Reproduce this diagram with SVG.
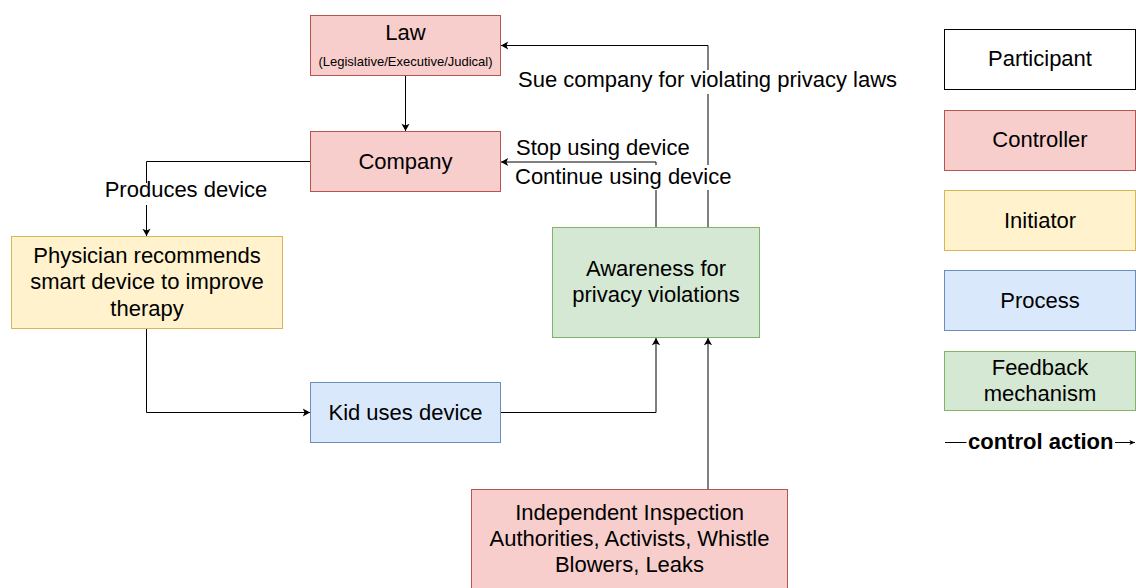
<svg xmlns="http://www.w3.org/2000/svg" width="1136" height="588" viewBox="0 0 1136 588">
  <style>
    .red { fill: #f8cecc; stroke: #b85450; stroke-width: 1; }
    .yellow { fill: #fff2cc; stroke: #d6b656; stroke-width: 1; }
    .blue { fill: #dae8fc; stroke: #6c8ebf; stroke-width: 1; }
    .green { fill: #d5e8d4; stroke: #82b366; stroke-width: 1; }
    .white { fill: #ffffff; stroke: #000000; stroke-width: 1; }
    text { font-family: "Liberation Sans", Arial, Helvetica, sans-serif; font-size: 22px; fill: #000000; }
    .c { text-anchor: middle; }
    .small { font-size: 13px; }
    .bold { font-weight: bold; }
    .edge { fill: none; stroke: #000000; stroke-width: 1; }
    .bg { fill: #ffffff; stroke: none; }
  </style>
  <defs>
    <marker id="arrow" viewBox="0 0 10 10" refX="9" refY="5" markerWidth="9" markerHeight="9" markerUnits="userSpaceOnUse" orient="auto">
      <path d="M1,0.5 L9,5 L1,9.5 L3,5 Z" fill="#000000"/>
    </marker>
    <marker id="arrowSmall" viewBox="0 0 10 10" refX="9" refY="5" markerWidth="7" markerHeight="7" markerUnits="userSpaceOnUse" orient="auto">
      <path d="M1,1.5 L9,5 L1,8.5 L3,5 Z" fill="#000000"/>
    </marker>
  </defs>

  <rect width="1136" height="588" fill="#ffffff"/>

  <!-- connectors -->
  <g id="connectors">
    <path class="edge" d="M405.5,76 V131" marker-end="url(#arrow)"/>
    <path class="edge" d="M310,161.5 H146.5 V236" marker-end="url(#arrow)"/>
    <path class="edge" d="M146.5,329 V412.5 H310" marker-end="url(#arrow)"/>
    <path class="edge" d="M501,412.5 H656 V338" marker-end="url(#arrow)"/>
    <path class="edge" d="M656,227 V162 H501" marker-end="url(#arrow)"/>
    <path class="edge" d="M708,227 V45.5 H501" marker-end="url(#arrow)"/>
    <path class="edge" d="M708,489 V338" marker-end="url(#arrow)"/>

    <!-- edge labels -->
    <rect class="bg" x="104" y="183" width="165" height="22"/>
    <text class="c" x="186" y="197">Produces device</text>
    <rect class="bg" x="516" y="70" width="383" height="24"/>
    <text class="c" x="707.5" y="87">Sue company for violating privacy laws</text>
    <text x="516" y="155">Stop using device</text>
    <rect class="bg" x="514" y="165" width="220" height="25"/>
    <text x="515" y="183.5">Continue using device</text>
  </g>

  <!-- nodes -->
  <g id="law">
    <rect class="red" x="310.5" y="15.5" width="190" height="60"/>
    <text class="c" x="405.5" y="39.5">Law</text>
    <text class="c small" x="405.5" y="66">(Legislative/Executive/Judical)</text>
  </g>
  <g id="company">
    <rect class="red" x="310.5" y="131.5" width="190" height="60"/>
    <text class="c" x="405.5" y="168.5">Company</text>
  </g>
  <g id="physician">
    <rect class="yellow" x="11.5" y="236.5" width="271" height="92"/>
    <text class="c" x="147" y="262.5">Physician recommends</text>
    <text class="c" x="147" y="289">smart device to improve</text>
    <text class="c" x="147" y="315.5">therapy</text>
  </g>
  <g id="kid">
    <rect class="blue" x="310.5" y="382.5" width="190" height="60"/>
    <text class="c" x="405.5" y="419.5">Kid uses device</text>
  </g>
  <g id="awareness">
    <rect class="green" x="552.5" y="227.5" width="207" height="110"/>
    <text class="c" x="656" y="276">Awareness for</text>
    <text class="c" x="656" y="302">privacy violations</text>
  </g>
  <g id="inspection">
    <rect class="red" x="471.5" y="489.5" width="316" height="110"/>
    <text class="c" x="629.5" y="519.5">Independent Inspection</text>
    <text class="c" x="629.5" y="545.5">Authorities, Activists, Whistle</text>
    <text class="c" x="629.5" y="572">Blowers, Leaks</text>
  </g>

  <!-- legend -->
  <g id="legend-participant">
    <rect class="white" x="944.5" y="29.5" width="191" height="60"/>
    <text class="c" x="1040" y="66">Participant</text>
  </g>
  <g id="legend-controller">
    <rect class="red" x="944.5" y="110.5" width="191" height="60"/>
    <text class="c" x="1040" y="147">Controller</text>
  </g>
  <g id="legend-initiator">
    <rect class="yellow" x="944.5" y="190.5" width="191" height="60"/>
    <text class="c" x="1040" y="227.5">Initiator</text>
  </g>
  <g id="legend-process">
    <rect class="blue" x="944.5" y="270.5" width="191" height="60"/>
    <text class="c" x="1040" y="307.5">Process</text>
  </g>
  <g id="legend-feedback">
    <rect class="green" x="944.5" y="351.5" width="191" height="59"/>
    <text class="c" x="1040" y="374.5">Feedback</text>
    <text class="c" x="1040" y="400.5">mechanism</text>
  </g>
  <g id="legend-control-action">
    <path class="edge" d="M945,442.5 H966.5"/>
    <text class="bold" x="968" y="449">control action</text>
    <path class="edge" d="M1115,442.5 H1135" marker-end="url(#arrowSmall)"/>
  </g>
</svg>
